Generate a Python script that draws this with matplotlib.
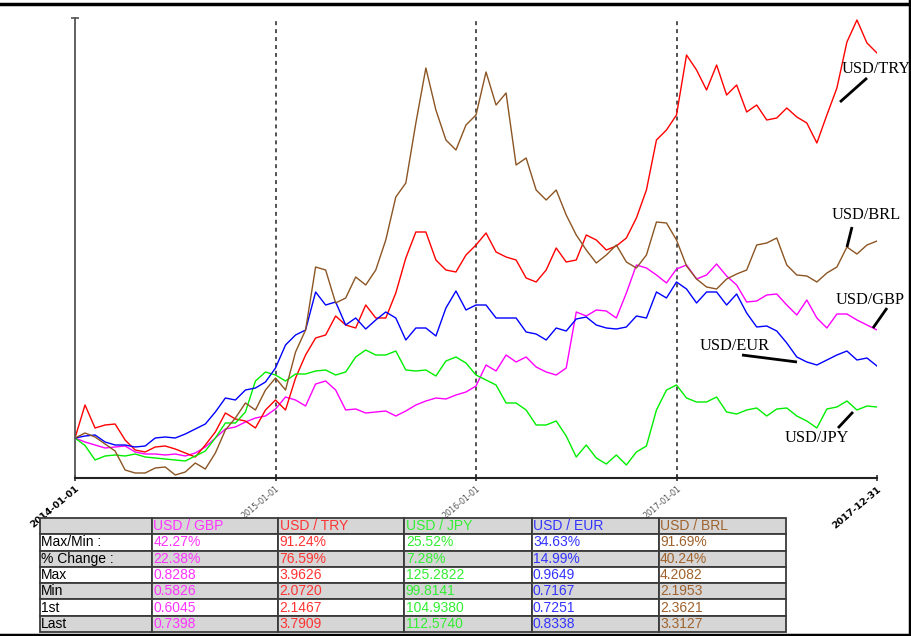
import numpy as np
import pandas as pd
import matplotlib
matplotlib.use("Agg")
import matplotlib.pyplot as plt
from matplotlib.lines import Line2D

# ---------------- data (percent change from 2014-01-01) ----------------
dates = pd.date_range("2014-01-01", "2017-12-31", periods=81)

usd_gbp = [0, -0.8, -1.4, -2.0, -1.8, -1.6, -2.8, -3.2, -3.2, -3.4, -3.2, -3.6, -3.0, -1.8, 0,
           1.8, 2.2, 3.2, 4.0, 4.4, 5.8, 8.2, 7.6, 6.4, 10.8, 11.4, 9.6, 5.6, 5.8, 5.0, 5.2,
           5.4, 4.4, 5.4, 6.6, 7.4, 8.0, 7.8, 8.6, 9.2, 10.4, 14.6, 13.4, 16.6, 15.2, 16.2,
           14.2, 13.2, 12.6, 14.0, 25.2, 24.4, 25.6, 25.4, 24.0, 29.0, 34.6, 34.0, 32.6, 31.0,
           33.8, 34.6, 31.8, 32.6, 34.8, 32.4, 30.6, 27.2, 27.4, 28.6, 28.8, 26.6, 24.6, 27.6,
           24.0, 22.0, 24.8, 24.8, 23.6, 22.6, 21.6]
usd_try = [0, 6.6, 2.0, 2.6, 2.8, -0.4, -2.4, -2.8, -1.8, -1.6, -2.2, -3.0, -3.8, -1.4, 1.2,
           5.0, 3.8, 3.4, 2.0, 5.6, 7.6, 5.6, 12.0, 16.6, 20.0, 20.6, 24.4, 22.6, 22.0, 26.6,
           24.0, 24.0, 29.0, 36.0, 41.2, 41.2, 35.6, 33.6, 33.2, 36.6, 38.6, 41.0, 37.2, 36.2,
           35.6, 32.0, 31.2, 33.6, 38.0, 35.2, 35.6, 40.6, 39.6, 37.6, 38.4, 40.0, 44.0, 49.6,
           59.6, 61.6, 64.6, 76.6, 73.6, 69.6, 74.6, 68.6, 70.6, 65.2, 66.6, 63.6, 64.0, 66.0,
           64.2, 63.0, 59.0, 64.6, 70.0, 79.2, 83.6, 79.0, 77.0]
usd_jpy = [0, -1.5, -4.4, -3.6, -3.4, -3.6, -3.2, -3.8, -4.0, -4.2, -4.4, -4.6, -3.6, -2.6, 0,
           3.0, 3.0, 5.2, 11.4, 13.2, 12.6, 11.4, 12.8, 12.8, 13.4, 13.6, 12.6, 13.2, 16.2,
           17.6, 16.6, 16.6, 17.4, 13.6, 13.4, 13.6, 12.4, 15.4, 16.2, 15.0, 12.6, 11.6, 10.6,
           7.0, 7.0, 5.6, 2.6, 2.6, 3.4, 0.4, -3.8, -1.4, -4.0, -5.2, -3.4, -5.4, -2.8, -1.6,
           5.6, 9.6, 10.6, 8.0, 7.2, 7.2, 8.2, 5.2, 4.8, 5.6, 6.0, 4.4, 5.8, 6.0, 4.4, 3.4,
           2.0, 5.8, 6.2, 7.4, 5.6, 6.4, 6.2]
usd_eur = [0, 0.4, 0.6, -0.8, -1.4, -1.4, -1.8, -1.6, 0, 0.2, 0, 0.8, 1.8, 2.8, 5.2, 8.0,
           7.6, 9.6, 10.0, 11.2, 14.0, 18.6, 20.6, 21.6, 29.2, 26.6, 27.2, 22.6, 24.0, 21.8,
           23.6, 25.2, 24.0, 19.6, 22.0, 22.0, 20.4, 26.0, 29.4, 25.6, 26.6, 26.6, 24.0, 24.0,
           24.0, 21.2, 20.8, 19.6, 22.0, 21.4, 23.8, 24.2, 22.6, 22.0, 21.8, 22.2, 24.4, 24.0,
           29.2, 28.0, 31.2, 29.8, 27.0, 29.2, 29.2, 26.6, 28.8, 25.0, 22.2, 22.4, 21.4, 19.0,
           16.2, 15.2, 14.6, 15.6, 16.6, 17.4, 15.6, 16.0, 14.4]
usd_brl = [0, 1.0, 0.2, -1.2, -2.6, -6.4, -7.0, -7.0, -6.0, -5.8, -7.4, -6.8, -5.0, -6.2, -3.0,
           1.6, 4.0, 7.0, 5.6, 9.6, 12.0, 9.6, 17.2, 21.6, 34.2, 33.6, 27.0, 28.0, 32.2, 30.6,
           33.6, 39.6, 48.2, 51.0, 63.0, 74.0, 65.6, 59.6, 57.6, 62.6, 64.6, 73.2, 66.6, 69.0,
           54.6, 56.0, 49.6, 47.6, 49.6, 44.6, 40.6, 37.6, 35.0, 36.6, 38.6, 35.2, 34.0, 36.6,
           43.2, 43.0, 39.6, 34.4, 31.8, 30.2, 29.8, 31.8, 32.8, 33.6, 38.6, 39.0, 40.0, 34.6,
           32.6, 32.4, 31.2, 33.0, 34.2, 38.2, 36.8, 38.6, 39.4]

series_names = ["USD/GBP", "USD/TRY", "USD/JPY", "USD/EUR", "USD/BRL"]
series_vals = [usd_gbp, usd_try, usd_jpy, usd_eur, usd_brl]
line_colors = ["#ff00ff", "#ff0000", "#00ee00", "#0000ff", "#8c5523"]
text_colors = ["#ff33ff", "#ff3333", "#33ee33", "#3333ff", "#a0622d"]

tick_dates = ["2014-01-01", "2015-01-01", "2016-01-01", "2017-01-01", "2017-12-31"]
year_lines = ["2015-01-01", "2016-01-01", "2017-01-01"]

table_header = ["", "USD / GBP", "USD / TRY", "USD / JPY", "USD / EUR", "USD / BRL"]
row_labels = ["Max/Min :", "% Change :", "Max", "Min", "1st", "Last"]
col_gbp = ["42.27%", "22.38%", "0.8288", "0.5826", "0.6045", "0.7398"]
col_try = ["91.24%", "76.59%", "3.9626", "2.0720", "2.1467", "3.7909"]
col_jpy = ["25.52%", "7.28%", "125.2822", "99.8141", "104.9380", "112.5740"]
col_eur = ["34.63%", "14.99%", "0.9649", "0.7167", "0.7251", "0.8338"]
col_brl = ["91.69%", "40.24%", "4.2082", "2.1953", "2.3621", "3.3127"]

# ---------------- figure ----------------
W, H = 912, 636
fig = plt.figure(figsize=(W / 100, H / 100), dpi=100)
fig.patch.set_facecolor("white")

ax = fig.add_axes([75 / W, 1 - 478 / H, (877 - 75) / W, (478 - 18) / H])
for vals, c in zip(series_vals, line_colors):
    ax.plot(dates, vals, color=c, lw=1.0)

x0, x1 = pd.Timestamp(tick_dates[0]), pd.Timestamp(tick_dates[-1])
ax.set_xlim(x0, x1)
ax.set_ylim(-8, 84)
for d in year_lines:
    ax.axvline(pd.Timestamp(d), color="#444444", lw=1.3, ls=(0, (2.2, 2.2)), zorder=0)

for s in ["top", "right"]:
    ax.spines[s].set_visible(False)
ax.spines["left"].set_color("#555555")
ax.spines["left"].set_linewidth(1.3)
ax.spines["bottom"].set_color("#222222")
ax.spines["bottom"].set_linewidth(1.5)
ax.set_yticks([84])
ax.set_yticklabels([""])
ax.tick_params(axis="y", length=6, direction="inout", color="#555555", width=1.2)

ax.set_xticks([pd.Timestamp(d) for d in tick_dates])
ax.set_xticklabels(tick_dates)
ax.tick_params(axis="x", length=5, direction="inout", color="#333333", width=1.2, pad=2)
for i, lab in enumerate(ax.get_xticklabels()):
    lab.set_rotation(40)
    lab.set_rotation_mode("anchor")
    lab.set_ha("right")
    lab.set_va("top")
    if i in (0, len(tick_dates) - 1):
        lab.set_fontsize(6.8)
        lab.set_fontweight("bold")
        lab.set_color("black")
    else:
        lab.set_fontsize(5.8)
        lab.set_color("#555555")

# series labels with leader lines (axes fraction placement)
def fx(px):
    return (px - 75) / 802
def fy(py):
    return (478 - py) / 460

labels_pos = {
    "USD/TRY": ((876, 69), ((840, 102), (867, 78))),
    "USD/BRL": ((866, 215), ((847, 247), (852, 227))),
    "USD/GBP": ((870, 300), ((873, 328), (887, 308))),
    "USD/EUR": ((735, 346), ((742, 355), (797, 362))),
    "USD/JPY": ((817, 438), ((838, 428), (853, 412))),
}
for name in series_names:
    (tx, ty), ((ax1, ay1), (ax2, ay2)) = labels_pos[name]
    ax.text(fx(tx), fy(ty), name, transform=ax.transAxes, ha="center", va="center",
            fontsize=11.8, family="Liberation Serif", color="black", clip_on=False)
    ax.plot([fx(ax1), fx(ax2)], [fy(ay1), fy(ay2)], transform=ax.transAxes,
            color="black", lw=2.0, clip_on=False, solid_capstyle="butt")

# ---------------- table ----------------
tax = fig.add_axes([40 / W, (H - 632) / H, (786 - 40) / W, (632 - 518) / H])
tax.axis("off")
cols = [col_gbp, col_try, col_jpy, col_eur, col_brl]
cell_text = [table_header] + [[row_labels[r]] + [c[r] for c in cols] for r in range(len(row_labels))]
gray, white = "#d6d6d6", "#ffffff"
row_bg = [gray] + [white if r % 2 == 0 else gray for r in range(len(row_labels))]
cell_colours = [[row_bg[r]] * 6 for r in range(len(cell_text))]
cw = np.array([112, 126, 126, 127, 127, 127], dtype=float)
tbl = tax.table(cellText=cell_text, cellColours=cell_colours, colWidths=list(cw / cw.sum()),
                cellLoc="left", bbox=[0, 0, 1, 1])
tbl.auto_set_font_size(False)
tbl.set_fontsize(10)
for (r, c), cell in tbl.get_celld().items():
    cell.set_edgecolor("#3a3a3a")
    cell.set_linewidth(1.3)
    cell.PAD = 0.01
    t = cell.get_text()
    t.set_family("Liberation Sans")
    t.set_color("black" if c == 0 else text_colors[c - 1])

# ---------------- figure border ----------------
fig.add_artist(Line2D([0, 1], [1 - 4 / H, 1 - 4 / H], transform=fig.transFigure, color="black", lw=2.5))
fig.add_artist(Line2D([0, 1], [1.5 / H, 1.5 / H], transform=fig.transFigure, color="black", lw=2.5))
fig.add_artist(Line2D([1 - 1.5 / W, 1 - 1.5 / W], [0, 1], transform=fig.transFigure, color="black", lw=2.5))

fig.savefig("out.png", dpi=100)
